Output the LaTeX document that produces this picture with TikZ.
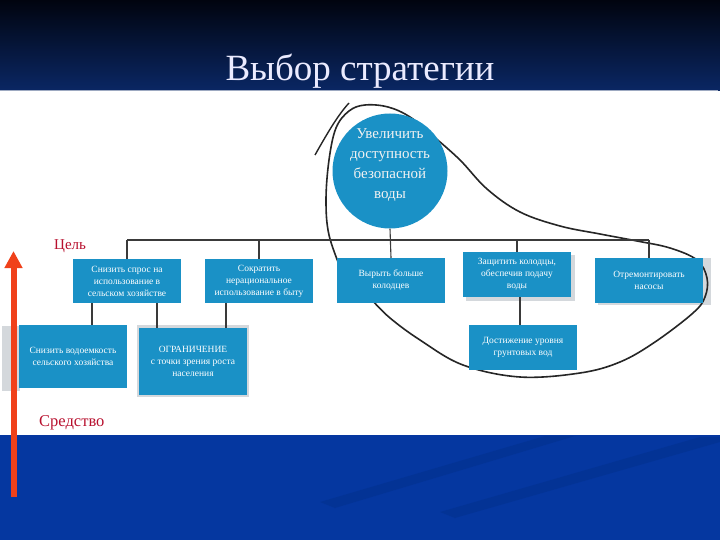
\documentclass[tikz,border=0pt]{standalone}
\usepackage{fontspec}
\setmainfont{Liberation Serif}
\usetikzlibrary{arrows.meta,calc}
\definecolor{boxblue}{HTML}{1A91C6}
\definecolor{topdark}{HTML}{01040F}
\definecolor{topnavy}{HTML}{0A2764}
\definecolor{lowblue}{HTML}{0537A0}
\definecolor{streak}{HTML}{02308C}
\definecolor{arrowred}{HTML}{F0411A}
\definecolor{labred}{HTML}{B8102E}
\definecolor{linegray}{HTML}{3A3A3A}
\definecolor{shadowgray}{HTML}{D4D8DC}
\tikzset{
  boxnode/.style={fill=boxblue, text=white, align=center, inner sep=1pt,
    minimum width=108pt, font=\fontsize{9.5}{12}\selectfont},
  conn/.style={draw=linegray, line width=1.1pt},
  lbl/.style={text=labred, inner sep=0pt},
  shadowbox/.style={fill=shadowgray}
}
\begin{document}
\begin{tikzpicture}[x=1pt,y=-1pt]
\useasboundingbox (0,0) rectangle (720,540);
% background
\shade[top color=topdark, bottom color=topnavy] (0,0) rectangle (720,91);
\fill[lowblue] (0,435) rectangle (720,540);
\fill[streak, opacity=0.5] (320,502) -- (545,436) -- (575,436) -- (335,508) -- cycle;
\fill[streak, opacity=0.5] (440,512) -- (700,437) -- (720,437) -- (720,442) -- (455,518) -- cycle;
% white panel
\fill[white] (0,91) rectangle (718,435);
\draw[color=topnavy!40!white, line width=1pt] (0,91) -- (718,91);
% title
\node[text=white!92!blue, font=\fontsize{37}{40}\selectfont, inner sep=0pt] (title) at (360,71) {Выбор стратегии};

% shadows
\fill[shadowgray] (2,326) rectangle (20,391);
\fill[shadowgray] (137,325) rectangle (249,397);
\fill[shadowgray] (466,255) rectangle (575,301);
\fill[shadowgray] (598,258) rectangle (711,305);

% freehand loop
\draw[line width=1.6pt, color=black!85] plot[smooth, tension=0.6] coordinates {
 (342,272) (329,235) (326,200) (329,160) (336,128) (349,111) (365,105) (388,107) (410,117)
 (433,136) (460,160) (487,189) (520,212) (560,226) (600,234) (637,241) (670,248) (697,260)
 (707,278) (705,297) (693,313) (655,342) (620,362) (580,373) (520,377) (463,365) (420,340)
 (390,318) (372,300)};
\draw[line width=1.4pt, color=black!85] (315,155) .. controls (328,132) and (338,115) .. (349,103);

% goal circle
\node[circle, fill=boxblue, minimum size=115pt, inner sep=0pt] (goal) at (390,171) {};
\node[text=white!90!gray, align=center, font=\fontsize{15}{20}\selectfont, inner sep=0pt]
  (goaltxt) at ([yshift=6pt]goal.center) {Увеличить\\доступность\\безопасной\\воды};

% boxes
\node[boxnode, minimum height=44pt] (b1) at (127,281) {Снизить спрос на\\использование в\\сельском хозяйстве};
\node[boxnode, minimum height=44pt] (b2) at (259,281) {Сократить\\нерациональное\\использование в быту};
\node[boxnode, minimum height=63pt] (b3) at (73,356.5) {Снизить водоемкость\\сельского хозяйства};
\node[boxnode, minimum height=67pt] (b4) at (193,361.5) {ОГРАНИЧЕНИЕ\\с точки зрения роста\\населения};
\node[boxnode, minimum height=45pt] (b5) at (391,280.5) {Вырыть больше\\колодцев};
\node[boxnode, minimum height=45pt] (b6) at (517,274.5) {Защитить колодцы,\\обеспечив подачу\\воды};
\node[boxnode, minimum height=45pt] (b7) at (523,347.5) {Достижение уровня\\грунтовых вод};
\node[boxnode, minimum height=45pt] (b8) at (649,280.5) {Отремонтировать\\насосы};

% connectors
\coordinate (busL) at (127,240);
\coordinate (busR) at (649,240);
\draw[conn] (busL) -- (busR);
\draw[conn] (b1.north) -- (b1.north |- busL);
\draw[conn] (b2.north) -- (b2.north |- busL);
\draw[conn] (goal.south) -- (b5.north);
\draw[conn] (b6.north) -- (b6.north |- busL);
\draw[conn] (b8.north) -- (b8.north |- busR);
\draw[conn] ([xshift=19pt]b3.north) -- ([xshift=19pt]b3.north |- b1.south);
\draw[conn] ([xshift=-36pt]b4.north) -- ([xshift=-36pt]b4.north |- b1.south);
\draw[conn] ([xshift=33pt]b4.north) -- ([xshift=33pt]b4.north |- b2.south);
\draw[conn] ([xshift=3pt]b6.south) -- ([xshift=-3pt]b7.north);

% labels and arrow
\coordinate (arrBot) at (13.5,497);
\coordinate (arrTop) at (13.5,251);
\draw[line width=6pt, color=arrowred, -{Triangle[width=17pt,length=17pt]}] (arrBot) -- (arrTop);
\node[lbl, anchor=west, font=\fontsize{15}{17}\selectfont] (goalLbl) at (54,246) {Цель};
\node[lbl, anchor=west, font=\fontsize{16.5}{18}\selectfont] (meansLbl) at (39,423) {Средство};
\end{tikzpicture}
\end{document}
